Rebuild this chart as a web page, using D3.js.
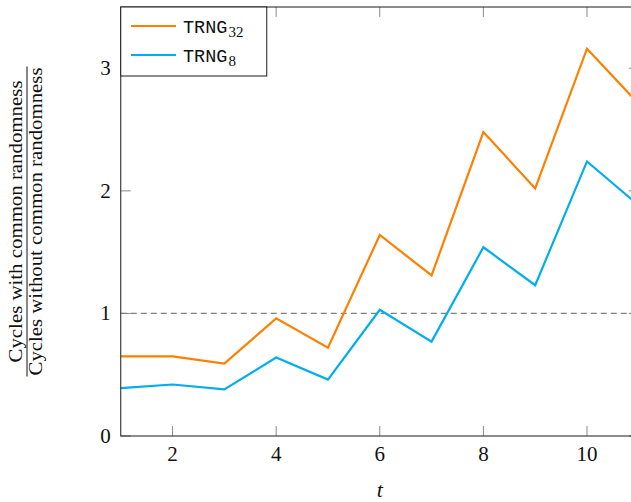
<!DOCTYPE html>
<html>
<head>
<meta charset="utf-8">
<script src="https://cdn.jsdelivr.net/npm/d3@7"></script>
<style>
  body { margin: 0; background: white; }
  svg { display: block; }
</style>
</head>
<body>
<script>

// ---- data ----
var tValues = [1, 2, 3, 4, 5, 6, 7, 8, 9, 10, 11];
var trng32 = [0.65, 0.65, 0.59, 0.96, 0.72, 1.64, 1.31, 2.48, 2.02, 3.16, 2.71];
var trng8  = [0.39, 0.42, 0.38, 0.64, 0.46, 1.03, 0.77, 1.54, 1.23, 2.24, 1.88];
var xTicks = [2, 4, 6, 8, 10];
var yTicks = [0, 1, 2, 3];
var refLine = 1;

var series = [
    {name: "TRNG", sub: "32", values: trng32, colour: "#ff8000"},
    {name: "TRNG", sub: "8",  values: trng8,  colour: "#00aeef"}
];

// ---- canvas ----
var W = 631, H = 502;
var serif = '"Liberation Serif", "Times New Roman", serif',
    mono = '"Liberation Mono", "Courier New", monospace',
    font_size = 21,
    tick_len = 10;

var svg = d3.select("body").append("svg")
    .attr("width", W)
    .attr("height", H);

var x = d3.scaleLinear().domain([1, 11]).range([120.75, 638.8]);
var y = d3.scaleLinear().domain([0, 3.5]).range([436, 7]);

var x0 = x.range()[0], x1 = x.range()[1],
    y0 = y.range()[0], y1 = y.range()[1];

svg.append("defs").append("clipPath")
    .attr("id", "plotClip")
    .append("rect")
    .attr("x", x0).attr("y", y1)
    .attr("width", x1 - x0).attr("height", y0 - y1);

// --- ticks (inward, all four sides) ---
var ticks = svg.append("g").attr("stroke", "#8a8a8a").attr("stroke-width", 1);

xTicks.forEach(function(d) {
    ticks.append("line")
        .attr("x1", x(d)).attr("x2", x(d))
        .attr("y1", y0).attr("y2", y0 - tick_len);
    ticks.append("line")
        .attr("x1", x(d)).attr("x2", x(d))
        .attr("y1", y1).attr("y2", y1 + tick_len);
});
yTicks.forEach(function(d) {
    ticks.append("line")
        .attr("x1", x0).attr("x2", x0 + tick_len)
        .attr("y1", y(d)).attr("y2", y(d));
    ticks.append("line")
        .attr("x1", x1).attr("x2", x1 - tick_len)
        .attr("y1", y(d)).attr("y2", y(d));
});

// --- reference line ---
svg.append("line")
    .attr("x1", x0).attr("x2", x1)
    .attr("y1", y(refLine)).attr("y2", y(refLine))
    .attr("stroke", "#808080")
    .attr("stroke-width", 1.2)
    .attr("stroke-dasharray", "6,4");

// --- series ---
var line = d3.line()
    .x(function(d, i) { return x(tValues[i]); })
    .y(function(d) { return y(d); });

var plot = svg.append("g").attr("clip-path", "url(#plotClip)");
series.forEach(function(s) {
    plot.append("path")
        .datum(s.values)
        .attr("d", line)
        .attr("fill", "none")
        .attr("stroke", s.colour)
        .attr("stroke-width", 2.2)
        .attr("stroke-linejoin", "miter");
});

// --- frame ---
svg.append("rect")
    .attr("x", x0).attr("y", y1)
    .attr("width", x1 - x0).attr("height", y0 - y1)
    .attr("fill", "none")
    .attr("stroke", "#1a1a1a")
    .attr("stroke-width", 1);

// --- tick labels ---
svg.append("g").selectAll("text")
    .data(xTicks)
    .join("text")
    .text(function(d) { return d; })
    .attr("x", function(d) { return x(d); })
    .attr("y", 461)
    .attr("text-anchor", "middle")
    .attr("font-family", serif)
    .attr("font-size", font_size)
    .attr("fill", "#111");

svg.append("g").selectAll("text")
    .data(yTicks)
    .join("text")
    .text(function(d) { return d; })
    .attr("x", x0 - 10)
    .attr("y", function(d) { return y(d) + 7; })
    .attr("text-anchor", "end")
    .attr("font-family", serif)
    .attr("font-size", font_size)
    .attr("fill", "#111");

// --- x label ---
svg.append("text")
    .text("t")
    .attr("x", x(6))
    .attr("y", 497)
    .attr("text-anchor", "middle")
    .attr("font-family", serif)
    .attr("font-style", "italic")
    .attr("font-size", font_size + 1)
    .attr("fill", "#111");

// --- y label (fraction) ---
var yl = svg.append("g")
    .attr("transform", "translate(27," + ((y0 + y1) / 2) + ") rotate(-90)");

yl.append("text")
    .text("Cycles with common randomness")
    .attr("x", 0).attr("y", -5)
    .attr("text-anchor", "middle")
    .attr("font-family", serif)
    .attr("font-size", 18)
    .attr("textLength", 282)
    .attr("lengthAdjust", "spacingAndGlyphs")
    .attr("fill", "#111");

yl.append("line")
    .attr("x1", -155).attr("x2", 155)
    .attr("y1", 0).attr("y2", 0)
    .attr("stroke", "#111")
    .attr("stroke-width", 1);

yl.append("text")
    .text("Cycles without common randomness")
    .attr("x", 0).attr("y", 15)
    .attr("text-anchor", "middle")
    .attr("font-family", serif)
    .attr("font-size", 18)
    .attr("textLength", 308)
    .attr("lengthAdjust", "spacingAndGlyphs")
    .attr("fill", "#111");

// --- legend ---
var leg = svg.append("g");
leg.append("rect")
    .attr("x", x0).attr("y", y1)
    .attr("width", 146).attr("height", 69)
    .attr("fill", "white")
    .attr("stroke", "#1a1a1a")
    .attr("stroke-width", 1);

series.forEach(function(s, i) {
    var ly = 26 + i * 29;
    leg.append("line")
        .attr("x1", 131).attr("x2", 176)
        .attr("y1", ly).attr("y2", ly)
        .attr("stroke", s.colour)
        .attr("stroke-width", 2.2);
    var t = leg.append("text")
        .attr("x", 183)
        .attr("y", ly + 7)
        .attr("fill", "#111");
    t.append("tspan")
        .attr("font-family", mono)
        .attr("font-size", 18.5)
        .text(s.name);
    t.append("tspan")
        .attr("font-family", serif)
        .attr("font-size", 15)
        .attr("dx", 1)
        .attr("dy", 4)
        .text(s.sub);
});

</script>
</body>
</html>
